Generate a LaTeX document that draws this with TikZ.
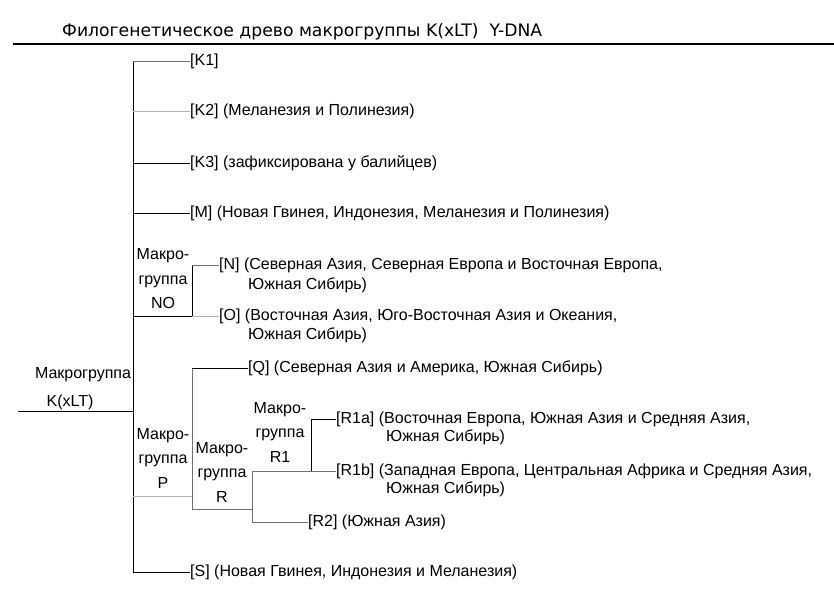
\documentclass[tikz,border=0pt]{standalone}
\usepackage{fontspec}
\setmainfont{Liberation Sans}
\newfontfamily\titlefont{DejaVu Sans}
\tikzset{
  leaf/.style={anchor=west, inner sep=0pt, font=\fontsize{16}{19}\selectfont},
  grp/.style={align=center, inner sep=0pt, font=\fontsize{16}{24.5}\selectfont},
  br/.style={line width=0.8pt, draw=black},
  brgray/.style={line width=0.8pt, draw=black!55},
  brlight/.style={line width=0.8pt, draw=black!30},
}

\begin{document}
\begin{tikzpicture}[x=1pt,y=-1pt]
\useasboundingbox (0,0) rectangle (834,600);
% title
\node[anchor=west,inner sep=0pt,font=\titlefont\fontsize{17.2}{20}\selectfont] (title) at (62,32) {Филогенетическое древо макрогруппы K(xLT)\ \ Y-DNA};
\draw[line width=1.6pt] (13,44) -- (834,44);
% root
\coordinate (root) at (18,411);
\coordinate (kx) at (133,411);
\node[leaf,anchor=center] (lk1) at (83,375) {Макрогруппа};
\node[leaf,anchor=center] (lk2) at (70,402) {K(xLT)};
\draw[br] (root) -- (kx);
% leaves on the trunk
\node[leaf] (k1) at (190,61) {[K1]};
\node[leaf] (k2) at (190,111) {[K2] (Меланезия и Полинезия)};
\node[leaf] (k3) at (190,163) {[K3] (зафиксирована у балийцев)};
\node[leaf] (m) at (190,213) {[M] (Новая Гвинея, Индонезия, Меланезия и Полинезия)};
\node[leaf] (s) at (190,572) {[S] (Новая Гвинея, Индонезия и Меланезия)};
\draw[br] (k1.west -| kx) -- (s.west -| kx);
\draw[brgray] (k1.west -| kx) -- (k1.west);
\draw[brlight] (k2.west -| kx) -- (k2.west);
\draw[br] (k3.west -| kx) -- (k3.west);
\draw[br] (m.west -| kx) -- (m.west);
\draw[br] (s.west -| kx) -- (s.west);
% NO
\coordinate (no) at (192,316);
\node[grp] (lno) at (163,279) {Макро-\\группа\\NO};
\node[leaf] (n) at (219,265) {[N] (Северная Азия, Северная Европа и Восточная Европа,};
\node[leaf] (n2) at (248,285) {Южная Сибирь)};
\node[leaf] (o) at (219,316) {[O] (Восточная Азия, Юго-Восточная Азия и Океания,};
\node[leaf] (o2) at (248,335) {Южная Сибирь)};
\draw[br] (no -| kx) -- (no);
\draw[br] (n.west -| no) -- (no);
\draw[brgray] (n.west -| no) -- (n.west);
\draw[brlight] (no) -- (o.west);
% P
\coordinate (p) at (192,496);
\coordinate (r) at (252,509);
\coordinate (r1) at (311,471);
\node[grp] (lp) at (163,458) {Макро-\\группа\\P};
\node[grp] (lr) at (222,472) {Макро-\\группа\\R};
\node[grp] (lr1) at (280,432) {Макро-\\группа\\R1};
\node[leaf] (q) at (248,368) {[Q] (Северная Азия и Америка, Южная Сибирь)};
\node[leaf] (r1a) at (336,419) {[R1a] (Восточная Европа, Южная Азия и Средняя Азия,};
\node[leaf] (r1a2) at (386,437) {Южная Сибирь)};
\node[leaf] (r1b) at (336,471) {[R1b] (Западная Европа, Центральная Африка и Средняя Азия,};
\node[leaf] (r1b2) at (386,489) {Южная Сибирь)};
\node[leaf] (r2) at (308,522) {[R2] (Южная Азия)};
\draw[brlight] (p -| kx) -- (p);
\draw[brgray] (q.west -| p) -- (r -| p);
\draw[br] (q.west -| p) -- (q.west);
\draw[brgray] (r -| p) -- (r);
\draw[brgray] (r1 -| r) -- (r2.west -| r);
\draw[brgray] (r1 -| r) -- (r1) -- (r1b.west);
\draw[br] (r1a.west -| r1) -- (r1);
\draw[br] (r1a.west -| r1) -- (r1a.west);
\draw[brgray] (r2.west -| r) -- (r2.west);
\end{tikzpicture}
\end{document}
